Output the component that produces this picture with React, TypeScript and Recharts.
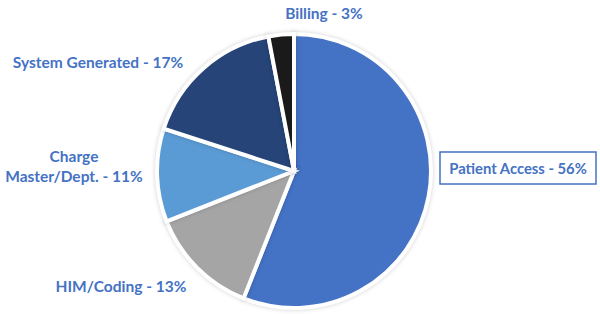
import { PieChart, Pie, Cell } from "recharts";

const categories = [
  "Patient Access",
  "HIM/Coding",
  "Charge Master/Dept.",
  "System Generated",
  "Billing",
];
const shares = [56, 13, 11, 17, 3];
const colors = ["#4472C4", "#A5A5A5", "#5B9BD5", "#264478", "#1A1A1A"];

const data = categories.map((name, i) => ({ name, value: shares[i] }));

// where each data label was dragged to in the original
const labelAnchors: Record<string, { x: number; y: number; lines: string[]; boxed?: boolean }> = {
  "Patient Access": { x: 518, y: 168, lines: ["Patient Access - 56%"], boxed: true },
  "HIM/Coding": { x: 121, y: 286, lines: ["HIM/Coding - 13%"] },
  "Charge Master/Dept.": { x: 74, y: 166, lines: ["Charge", "Master/Dept. - 11%"] },
  "System Generated": { x: 98, y: 62, lines: ["System Generated - 17%"] },
  Billing: { x: 324, y: 13, lines: ["Billing - 3%"] },
};

const LABEL_COLOR = "#4472C4";

function SliceLabel(props: any) {
  const a = labelAnchors[props.name];
  if (!a) return null;
  const lh = 20;
  const y0 = a.y - ((a.lines.length - 1) * lh) / 2;
  return (
    <g>
      {a.boxed && (
        <rect
          x={a.x - 78}
          y={a.y - 16}
          width={156}
          height={32}
          fill="#fff"
          stroke={LABEL_COLOR}
          strokeWidth={1.5}
        />
      )}
      {a.lines.map((line, i) => (
        <text
          key={i}
          x={a.x}
          y={y0 + i * lh}
          textAnchor="middle"
          dominantBaseline="central"
          fill={LABEL_COLOR}
          fontSize={a.boxed ? 14.8 : 15.5}
          fontWeight={700}
          fontFamily="Lato, 'Open Sans', sans-serif"
        >
          {line}
        </text>
      ))}
    </g>
  );
}

export default function App() {
  return (
    <div style={{ position: "absolute", left: 0, top: 0, width: 600, height: 314, background: "#fff" }}>
      <style>{`.recharts-pie-sector { filter: drop-shadow(0 0 2px rgba(0,0,0,0.18)); }`}</style>
      <PieChart width={600} height={314} margin={{ top: 0, right: 0, bottom: 0, left: 0 }}>
        <Pie
          data={data}
          dataKey="value"
          nameKey="name"
          cx={294}
          cy={171}
          outerRadius={137}
          startAngle={90}
          endAngle={-270}
          stroke="#fff"
          strokeWidth={4}
          label={SliceLabel}
          labelLine={false}
          isAnimationActive={false}
        >
          {data.map((d, i) => (
            <Cell key={d.name} fill={colors[i]} />
          ))}
        </Pie>
      </PieChart>
    </div>
  );
}
